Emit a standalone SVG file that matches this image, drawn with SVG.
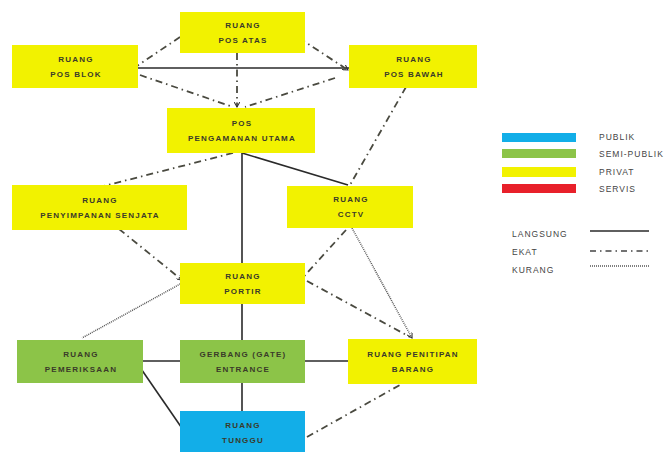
<svg xmlns="http://www.w3.org/2000/svg" width="668" height="452" viewBox="0 0 668 452">
<style>
.y{fill:#f2f200}.g{fill:#8cc448}.b{fill:#12aee8}
.t{font-family:"Liberation Sans",Arial,sans-serif;font-size:8px;font-weight:bold;fill:#3a3a2a;text-anchor:middle;letter-spacing:1.2px}
.lg{font-family:"Liberation Sans",Arial,sans-serif;font-size:8.5px;fill:#444;letter-spacing:1px}
.s{stroke:#2a2a2a;stroke-width:1.6;fill:none}
.d{stroke:#4a4a40;stroke-width:1.8;fill:none;stroke-dasharray:7 4 1.5 4}
.o{stroke:#555;stroke-width:1.5;fill:none;stroke-dasharray:1 1}
</style>
<defs>
<marker id="a" viewBox="0 0 8 8" refX="7" refY="4" markerWidth="6" markerHeight="6" orient="auto" markerUnits="userSpaceOnUse">
<path d="M0,0 L7,4 L0,8" fill="none" stroke="#333" stroke-width="1.4"/>
</marker>
</defs>
<rect width="668" height="452" fill="#fff"/>
<g id="connectors">
<line class="s" x1="138" y1="68" x2="349" y2="68"/>
<line class="s" x1="242" y1="153" x2="242" y2="263"/>
<line class="s" x1="242" y1="153" x2="348" y2="185"/>
<line class="s" x1="242" y1="304" x2="242" y2="340"/>
<line class="s" x1="242" y1="383" x2="242" y2="411"/>
<line class="s" x1="185" y1="361" x2="138" y2="361"/>
<line class="s" x1="305" y1="361" x2="348" y2="361"/>
<line class="s" x1="135" y1="360" x2="188" y2="437"/>
<line class="d" x1="180" y1="37" x2="131" y2="70" marker-end="url(#a)"/>
<line class="d" x1="299" y1="38" x2="348" y2="70" marker-end="url(#a)"/>
<line class="d" x1="237" y1="53" x2="237" y2="107" marker-end="url(#a)"/>
<line class="d" x1="140" y1="75" x2="233" y2="107"/>
<line class="d" x1="335" y1="78" x2="245" y2="107"/>
<line class="d" x1="233" y1="153" x2="100" y2="187"/>
<line class="d" x1="406" y1="87" x2="350" y2="185"/>
<line class="d" x1="119" y1="229" x2="182" y2="280" marker-end="url(#a)"/>
<line class="d" x1="346" y1="230" x2="298" y2="283" marker-end="url(#a)"/>
<line class="d" x1="307" y1="281" x2="410" y2="337"/>
<line class="d" x1="307" y1="437" x2="407" y2="381"/>
<line class="o" x1="352" y1="228" x2="412" y2="338" marker-end="url(#a)"/>
<line class="o" x1="182" y1="283" x2="82" y2="338"/>
</g>
<g id="pos-atas"><rect class="y" x="180" y="12" width="125" height="41"/><text class="t" x="243" y="28">RUANG</text><text class="t" x="243" y="43">POS ATAS</text></g>
<g id="pos-blok"><rect class="y" x="12" y="45" width="126" height="43"/><text class="t" x="76" y="62">RUANG</text><text class="t" x="76" y="77">POS BLOK</text></g>
<g id="pos-bawah"><rect class="y" x="349" y="45" width="128" height="43"/><text class="t" x="414" y="62">RUANG</text><text class="t" x="414" y="77">POS BAWAH</text></g>
<g id="pos-pengamanan"><rect class="y" x="167" y="108" width="148" height="45"/><text class="t" x="242" y="126">POS</text><text class="t" x="242" y="141">PENGAMANAN UTAMA</text></g>
<g id="penyimpanan"><rect class="y" x="12" y="185" width="175" height="45"/><text class="t" x="100" y="203">RUANG</text><text class="t" x="100" y="218">PENYIMPANAN SENJATA</text></g>
<g id="cctv"><rect class="y" x="287" y="186" width="126" height="42"/><text class="t" x="351" y="202">RUANG</text><text class="t" x="351" y="217">CCTV</text></g>
<g id="portir"><rect class="y" x="180" y="263" width="125" height="41"/><text class="t" x="243" y="279">RUANG</text><text class="t" x="243" y="294">PORTIR</text></g>
<g id="pemeriksaan"><rect class="g" x="17" y="340" width="126" height="43"/><text class="t" x="81" y="357">RUANG</text><text class="t" x="81" y="372">PEMERIKSAAN</text></g>
<g id="gerbang"><rect class="g" x="180" y="340" width="125" height="43"/><text class="t" x="243" y="357">GERBANG (GATE)</text><text class="t" x="243" y="372">ENTRANCE</text></g>
<g id="penitipan"><rect class="y" x="348" y="339" width="129" height="45"/><text class="t" x="413" y="357">RUANG PENITIPAN</text><text class="t" x="413" y="372">BARANG</text></g>
<g id="tunggu"><rect class="b" x="180" y="411" width="125" height="45"/><text class="t" x="243" y="428">RUANG</text><text class="t" x="243" y="443">TUNGGU</text></g>
<g id="legend">
<rect x="502" y="133" width="74" height="9" fill="#12aee8"/>
<rect x="502" y="149" width="74" height="9" fill="#8cc448"/>
<rect x="502" y="167" width="74" height="10" fill="#f2f200"/>
<rect x="502" y="184" width="74" height="9" fill="#e8202a"/>
<text class="lg" x="599" y="140">PUBLIK</text>
<text class="lg" x="599" y="157">SEMI-PUBLIK</text>
<text class="lg" x="599" y="175">PRIVAT</text>
<text class="lg" x="599" y="192">SERVIS</text>
<text class="lg" x="512" y="237">LANGSUNG</text>
<text class="lg" x="512" y="255">EKAT</text>
<text class="lg" x="512" y="273">KURANG</text>
<line class="s" x1="590" y1="231" x2="649" y2="231"/>
<line x1="590" y1="251" x2="649" y2="251" stroke="#444" stroke-width="1.6" stroke-dasharray="6 4 1.5 4"/>
<line x1="590" y1="266" x2="649" y2="266" stroke="#555" stroke-width="1.5" stroke-dasharray="1 1"/>
</g>
</svg>
